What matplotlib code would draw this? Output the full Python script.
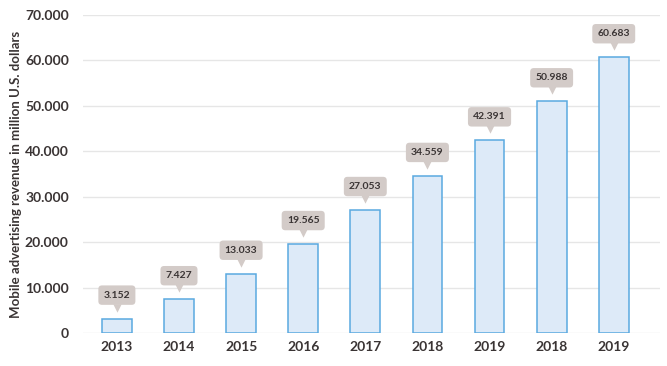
import numpy as np
import matplotlib
matplotlib.use("Agg")
import matplotlib.pyplot as plt
from matplotlib.transforms import offset_copy

plt.rcParams['font.family'] = ['Lato', 'DejaVu Sans']

years = ["2013", "2014", "2015", "2016", "2017", "2018", "2019", "2018", "2019"]
revenue = [3152, 7427, 13033, 19565, 27053, 34559, 42391, 50988, 60683]
labels = ["3.152", "7.427", "13.033", "19.565", "27.053", "34.559", "42.391", "50.988", "60.683"]
yticks = [0, 10000, 20000, 30000, 40000, 50000, 60000, 70000]
ytick_labels = ["0", "10.000", "20.000", "30.000", "40.000", "50.000", "60.000", "70.000"]

fig = plt.figure(figsize=(6.67, 3.66), dpi=100)
ax = fig.add_axes([0.124, 0.09, 0.866, 0.869])

x = np.arange(len(years))
ax.bar(x, revenue, width=0.48, color="#ddeaf8", edgecolor="#5aa9e0", linewidth=1.1, zorder=3)

ax.set_ylim(0, 70000)
ax.set_xlim(-0.55, 8.75)
ax.set_yticks(yticks)
ax.set_yticklabels(ytick_labels)
ax.set_xticks(x)
ax.set_xticklabels(years)
ax.grid(axis="y", color="#e6e6e6", linewidth=1, zorder=0)
for s in ax.spines.values():
    s.set_visible(False)
ax.tick_params(length=0, labelsize=10, labelcolor="#3a3434", pad=6)
for t in ax.get_xticklabels() + ax.get_yticklabels():
    t.set_fontweight("bold")
ax.tick_params(axis="y", pad=10)

ax.set_ylabel("Mobile advertising revenue in million U.S. dollars", fontsize=9.5,
              fontweight="bold", color="#3a3434", labelpad=2)

# value tags with small pointer
pointer_tr = offset_copy(ax.transData, fig=fig, x=0, y=8, units="points")
ax.scatter(x, revenue, marker="v", s=36, color="#d3cbc8", transform=pointer_tr,
           zorder=4, clip_on=False, linewidths=0)
for xi, v, lab in zip(x, revenue, labels):
    ax.annotate(lab, (xi, v), xytext=(0, 17), textcoords="offset points",
                ha="center", va="center", fontsize=7.5, fontweight="bold", color="#3a3434",
                bbox=dict(boxstyle="round,pad=0.5,rounding_size=0.35", fc="#d3cbc8", ec="none"),
                zorder=5, annotation_clip=False)

fig.savefig("out.png", dpi=100)
